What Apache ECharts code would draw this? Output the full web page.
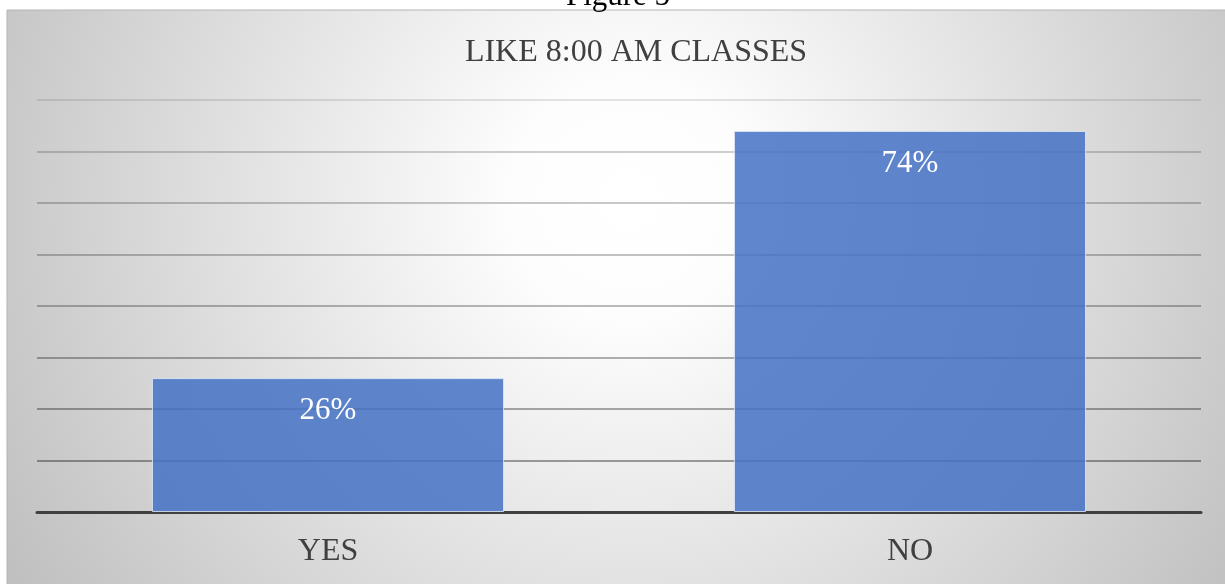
<!DOCTYPE html>
<html>
<head>
<meta charset="utf-8">
<script src="https://cdn.jsdelivr.net/npm/echarts@6/dist/echarts.min.js"></script>
<style>
html,body{margin:0;padding:0;background:#fff;}
#c{width:1225px;height:584px;}
</style>
</head>
<body>
<div id="c"></div>
<script>
const categories = ['YES', 'NO'];
const values = [26, 74];
const titleText = 'LIKE 8:00 AM CLASSES';
const captionText = 'Figure 5';

const chart = echarts.init(document.getElementById('c'));
const serif = '"Liberation Serif", "Times New Roman", serif';
chart.setOption({
  animation: false,
  graphic: [
    {
      type: 'rect', z: -10, silent: true,
      shape: { x: 7, y: 10, width: 1230, height: 580 },
      style: {
        fill: new echarts.graphic.RadialGradient(630, 200, 800, [
          { offset: 0, color: '#ffffff' },
          { offset: 0.15, color: '#fdfdfd' },
          { offset: 1, color: '#b8b8b8' }
        ], true),
        stroke: '#b4b4b4', lineWidth: 1
      }
    },
    {
      type: 'text', x: 618, y: -19,
      style: { text: captionText, font: '31px ' + serif, fill: '#000', textAlign: 'center' }
    }
  ],
  title: {
    text: titleText, left: 631, top: 32, textAlign: 'center',
    textStyle: { fontFamily: serif, fontSize: 32, fontWeight: 'normal', color: '#404040' }
  },
  grid: { left: 37, right: 24, top: 100, bottom: 72 },
  xAxis: {
    type: 'category', data: categories,
    axisLine: { lineStyle: { color: '#404040', width: 3 } },
    axisTick: { show: false },
    axisLabel: { fontFamily: serif, fontSize: 32, color: '#404040', margin: 24 }
  },
  yAxis: {
    type: 'value', min: 0, max: 80, interval: 10,
    axisLabel: { show: false },
    axisLine: { show: false },
    axisTick: { show: false },
    splitLine: { lineStyle: {
      color: ['rgba(0,0,0,0.4)', 'rgba(0,0,0,0.36)', 'rgba(0,0,0,0.33)', 'rgba(0,0,0,0.3)',
              'rgba(0,0,0,0.27)', 'rgba(0,0,0,0.24)', 'rgba(0,0,0,0.21)', 'rgba(0,0,0,0.18)', 'rgba(0,0,0,0.1)'],
      width: 2 } }
  },
  series: [{
    type: 'bar', data: values, barWidth: '60.5%',
    itemStyle: { color: 'rgba(68,114,196,0.85)', borderColor: 'rgba(230,238,250,0.8)', borderWidth: 1 },
    label: {
      show: true, position: 'insideTop', distance: 17,
      formatter: '{c}%', fontFamily: serif, fontSize: 31, color: '#ffffff'
    }
  }]
});
</script>
</body>
</html>
